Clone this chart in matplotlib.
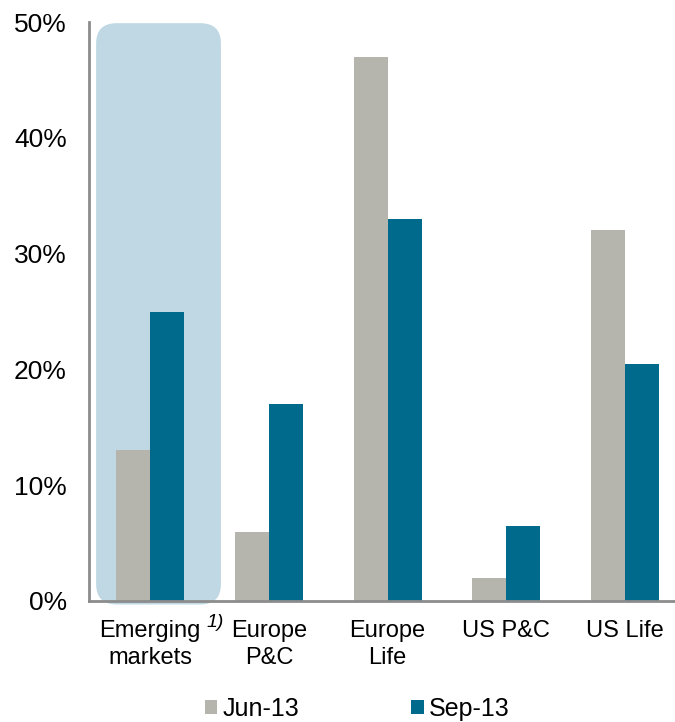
import numpy as np
import matplotlib
matplotlib.use("Agg")
import matplotlib.pyplot as plt
from matplotlib.patches import FancyBboxPatch

categories = ["Emerging\nmarkets", "Europe\nP&C", "Europe\nLife", "US P&C", "US Life"]
jun13 = [13.0, 6.0, 47.0, 2.0, 32.0]
sep13 = [25.0, 17.0, 33.0, 6.5, 20.5]
series_names = ["Jun-13", "Sep-13"]

GREY = "#B5B5AE"
TEAL = "#006A8C"
HILITE = "#BFD8E3"
AXIS = "#8C8C8C"

plt.rcParams['font.family'] = ['Liberation Sans', 'DejaVu Sans']

fig = plt.figure(figsize=(6.75, 7.22), dpi=100)
ax = fig.add_axes([0.132, 0.1676, 0.868, 0.8019])

x = np.arange(len(categories))
w = 0.286
ax.bar(x - w / 2, jun13, width=w, color=GREY, label=series_names[0], zorder=3)
ax.bar(x + w / 2, sep13, width=w, color=TEAL, label=series_names[1], zorder=3)

ax.set_xlim(-0.514, 4.421)
ax.set_ylim(0, 50)

# highlight box behind emerging markets
hl = FancyBboxPatch((0.012, -0.006), 0.213, 1.004,
                    boxstyle="round,pad=0,rounding_size=0.035",
                    transform=ax.transAxes, facecolor=HILITE, edgecolor="none",
                    clip_on=False, zorder=1)
ax.add_patch(hl)

ax.set_yticks([0, 10, 20, 30, 40, 50])
ax.set_yticklabels([f"{v}%" for v in [0, 10, 20, 30, 40, 50]], fontsize=19)
ax.set_xticks(x)
ax.set_xticklabels(categories, fontsize=17, linespacing=1.25)
ax.tick_params(axis='both', length=0)
ax.tick_params(axis='y', pad=16)
ax.tick_params(axis='x', pad=14)

for s in ["top", "right"]:
    ax.spines[s].set_visible(False)
for s in ["left", "bottom"]:
    ax.spines[s].set_color(AXIS)
    ax.spines[s].set_linewidth(2)
    ax.spines[s].set_zorder(4)

ax.text(0.545, -1.1, "1)", fontsize=14, style='italic', ha='center', va='top',
        transform=ax.transData, clip_on=False)

fig.legend(loc='lower center', bbox_to_anchor=(0.529, -0.012), ncol=2,
           frameon=False, fontsize=18, handlelength=0.5, handleheight=0.5,
           handletextpad=0.2, columnspacing=4.5, borderaxespad=0)

fig.savefig("out.png", dpi=100)
